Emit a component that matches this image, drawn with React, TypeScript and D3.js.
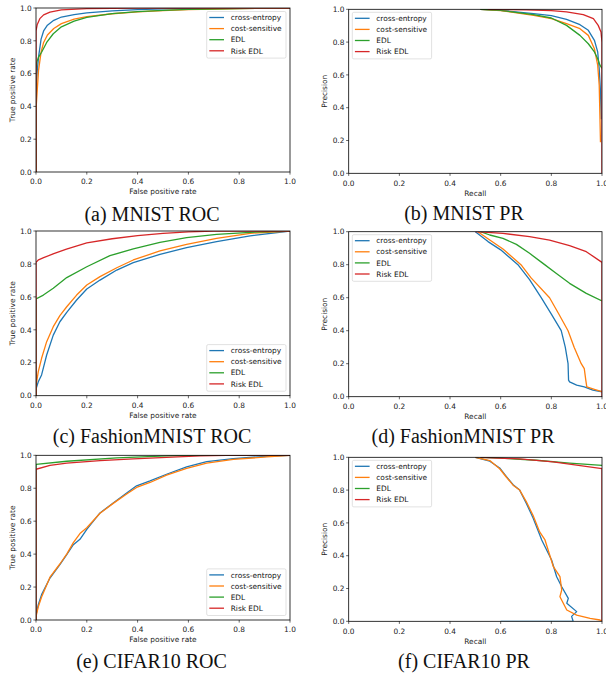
import React from 'react'
import * as d3 from 'd3'

type Pt = [number, number]

const methods = ['cross-entropy', 'cost-sensitive', 'EDL', 'Risk EDL']
const colors = ['#1f77b4', '#ff7f0e', '#2ca02c', '#d62728']
const tickValues = [0, 0.2, 0.4, 0.6, 0.8, 1.0]

// (a) MNIST ROC  [fpr, tpr]
const mnistRocCE: Pt[] = [[0, 0], [0, 0.5], [0.005, 0.62], [0.01, 0.7], [0.02, 0.81], [0.03, 0.86], [0.045, 0.895], [0.07, 0.925], [0.1, 0.945], [0.15, 0.96], [0.2, 0.97], [0.3, 0.982], [0.4, 0.99], [0.5, 0.995], [0.7, 0.999], [1, 1]]
const mnistRocCS: Pt[] = [[0, 0], [0, 0.38], [0.005, 0.5], [0.01, 0.62], [0.02, 0.73], [0.03, 0.79], [0.045, 0.835], [0.07, 0.875], [0.1, 0.905], [0.15, 0.932], [0.2, 0.948], [0.3, 0.965], [0.4, 0.976], [0.5, 0.984], [0.6, 0.99], [0.8, 0.997], [1, 1]]
const mnistRocEDL: Pt[] = [[0, 0], [0, 0.62], [0.003, 0.67], [0.01, 0.7], [0.022, 0.73], [0.042, 0.79], [0.068, 0.843], [0.1, 0.885], [0.15, 0.92], [0.2, 0.943], [0.3, 0.966], [0.4, 0.978], [0.5, 0.986], [0.6, 0.992], [0.8, 0.997], [1, 1]]
const mnistRocRisk: Pt[] = [[0, 0], [0, 0.86], [0.005, 0.9], [0.015, 0.935], [0.03, 0.958], [0.055, 0.975], [0.1, 0.988], [0.2, 0.996], [0.4, 0.999], [1, 1]]

// (b) MNIST PR  [recall, precision]
const mnistPrCE: Pt[] = [[0.52, 1], [0.6, 0.994], [0.73, 0.973], [0.8, 0.962], [0.86, 0.939], [0.913, 0.906], [0.946, 0.872], [0.97, 0.811], [0.983, 0.74], [0.989, 0.638], [0.994, 0.5], [0.997, 0.33]]
const mnistPrCS: Pt[] = [[0.52, 1], [0.6, 0.992], [0.73, 0.963], [0.8, 0.943], [0.86, 0.912], [0.913, 0.882], [0.946, 0.841], [0.97, 0.76], [0.983, 0.659], [0.989, 0.537], [0.992, 0.333], [0.994, 0.19]]
const mnistPrEDL: Pt[] = [[0.52, 1], [0.6, 0.993], [0.73, 0.967], [0.8, 0.947], [0.86, 0.902], [0.913, 0.841], [0.946, 0.79], [0.97, 0.74], [0.983, 0.699], [0.992, 0.659], [1, 0.64]]
const mnistPrRisk: Pt[] = [[0.55, 1], [0.7, 0.997], [0.8, 0.992], [0.86, 0.984], [0.926, 0.967], [0.966, 0.943], [0.985, 0.902], [0.996, 0.862], [1, 0.8], [1, 0]]

// (c) FashionMNIST ROC
const fashionRocCE: Pt[] = [[0, 0], [0, 0.04], [0.009, 0.085], [0.022, 0.126], [0.042, 0.247], [0.068, 0.368], [0.094, 0.449], [0.121, 0.506], [0.16, 0.581], [0.2, 0.648], [0.252, 0.702], [0.318, 0.763], [0.383, 0.808], [0.488, 0.858], [0.593, 0.899], [0.711, 0.935], [0.843, 0.97], [1, 1]]
const fashionRocCS: Pt[] = [[0, 0], [0, 0.06], [0.009, 0.146], [0.022, 0.227], [0.042, 0.328], [0.068, 0.419], [0.094, 0.486], [0.121, 0.54], [0.16, 0.611], [0.2, 0.672], [0.252, 0.723], [0.318, 0.777], [0.383, 0.824], [0.488, 0.879], [0.593, 0.919], [0.711, 0.955], [0.843, 0.986], [1, 1]]
const fashionRocEDL: Pt[] = [[0, 0], [0, 0.587], [0.029, 0.611], [0.068, 0.652], [0.121, 0.717], [0.2, 0.783], [0.291, 0.85], [0.383, 0.891], [0.488, 0.931], [0.593, 0.96], [0.711, 0.98], [0.843, 0.992], [1, 1]]
const fashionRocRisk: Pt[] = [[0, 0], [0, 0.81], [0.01, 0.825], [0.03, 0.838], [0.07, 0.862], [0.12, 0.89], [0.2, 0.928], [0.3, 0.953], [0.4, 0.972], [0.5, 0.986], [0.6, 0.995], [0.7, 0.999], [1, 1]]

// (d) FashionMNIST PR
const fashionPrCE: Pt[] = [[0.5, 1], [0.55, 0.94], [0.6, 0.89], [0.668, 0.8], [0.714, 0.71], [0.76, 0.6], [0.8, 0.5], [0.839, 0.4], [0.855, 0.3], [0.866, 0.2], [0.868, 0.1], [0.872, 0.09], [0.9, 0.07], [0.93, 0.06], [0.964, 0.04], [1, 0.03]]
const fashionPrCS: Pt[] = [[0.51, 1], [0.557, 0.95], [0.609, 0.895], [0.68, 0.8], [0.72, 0.72], [0.793, 0.6], [0.83, 0.5], [0.866, 0.4], [0.89, 0.3], [0.918, 0.2], [0.93, 0.17], [0.936, 0.1], [0.94, 0.06], [0.97, 0.045], [1, 0.03]]
const fashionPrEDL: Pt[] = [[0.52, 1], [0.557, 0.98], [0.609, 0.96], [0.662, 0.923], [0.714, 0.869], [0.767, 0.808], [0.82, 0.747], [0.872, 0.687], [0.938, 0.626], [1, 0.58]]
const fashionPrRisk: Pt[] = [[0.5, 1], [0.609, 0.99], [0.714, 0.97], [0.793, 0.949], [0.872, 0.915], [0.938, 0.879], [1, 0.814], [1, 0]]

// (e) CIFAR10 ROC
const cifarRocCE: Pt[] = [[0, 0], [0, 0.03], [0.009, 0.093], [0.022, 0.154], [0.055, 0.255], [0.094, 0.336], [0.121, 0.397], [0.147, 0.457], [0.173, 0.49], [0.2, 0.55], [0.252, 0.65], [0.304, 0.711], [0.357, 0.771], [0.396, 0.815], [0.449, 0.845], [0.514, 0.885], [0.593, 0.93], [0.672, 0.962], [0.777, 0.98], [0.908, 0.994], [1, 1]]
const cifarRocCS: Pt[] = [[0, 0], [0, 0.02], [0.009, 0.08], [0.022, 0.14], [0.055, 0.26], [0.094, 0.34], [0.121, 0.4], [0.147, 0.47], [0.173, 0.525], [0.2, 0.56], [0.252, 0.648], [0.304, 0.708], [0.357, 0.765], [0.396, 0.805], [0.449, 0.835], [0.514, 0.88], [0.593, 0.92], [0.672, 0.952], [0.777, 0.975], [0.908, 0.99], [1, 1]]
const cifarRocEDL: Pt[] = [[0, 0], [0, 0.945], [0.121, 0.964], [0.318, 0.984], [0.514, 0.996], [0.6, 1], [1, 1]]
const cifarRocRisk: Pt[] = [[0, 0], [0, 0.915], [0.055, 0.939], [0.121, 0.953], [0.252, 0.968], [0.383, 0.978], [0.514, 0.988], [0.646, 0.996], [0.75, 1], [1, 1]]

// (f) CIFAR10 PR
const cifarPrCE: Pt[] = [[0.5, 1], [0.557, 0.976], [0.596, 0.935], [0.622, 0.884], [0.649, 0.833], [0.675, 0.8], [0.701, 0.72], [0.728, 0.63], [0.754, 0.528], [0.762, 0.496], [0.801, 0.374], [0.821, 0.272], [0.841, 0.211], [0.867, 0.14], [0.861, 0.11], [0.9, 0.059], [0.88, 0.03], [0.886, 0], [0.6, 0]]
const cifarPrCS: Pt[] = [[0.5, 1], [0.557, 0.98], [0.596, 0.93], [0.622, 0.88], [0.649, 0.83], [0.675, 0.8], [0.701, 0.73], [0.728, 0.645], [0.754, 0.545], [0.775, 0.496], [0.808, 0.333], [0.834, 0.272], [0.841, 0.191], [0.834, 0.15], [0.861, 0.069], [0.9, 0.038], [0.953, 0.018], [0.992, 0.008], [1, 0]]
const cifarPrEDL: Pt[] = [[0.52, 1], [0.6, 0.995], [0.741, 0.982], [0.872, 0.965], [1, 0.951]]
const cifarPrRisk: Pt[] = [[0.52, 1], [0.675, 0.99], [0.807, 0.972], [1, 0.931], [1, 0]]

type PanelSpec = {
  id: string
  caption: string
  xLabel: string
  yLabel: string
  curves: Pt[][]
  legend: 'ur' | 'ul' | 'lr'
  box: [number, number, number, number] // left, top, right, bottom
  capX: number
  capY: number
}

const rocX = 'False positive rate'
const rocY = 'True positive rate'

const panels: PanelSpec[] = [
  { id: 'a', caption: '(a) MNIST ROC', xLabel: rocX, yLabel: rocY, curves: [mnistRocCE, mnistRocCS, mnistRocEDL, mnistRocRisk], legend: 'ur', box: [36, 8, 290, 172], capX: 152, capY: 220.5 },
  { id: 'b', caption: '(b) MNIST PR', xLabel: 'Recall', yLabel: 'Precision', curves: [mnistPrCE, mnistPrCS, mnistPrEDL, mnistPrRisk], legend: 'ul', box: [348.7, 9.3, 602, 173.3], capX: 464, capY: 220 },
  { id: 'c', caption: '(c) FashionMNIST ROC', xLabel: rocX, yLabel: rocY, curves: [fashionRocCE, fashionRocCS, fashionRocEDL, fashionRocRisk], legend: 'lr', box: [36, 231, 290, 395.7], capX: 152, capY: 443 },
  { id: 'd', caption: '(d) FashionMNIST PR', xLabel: 'Recall', yLabel: 'Precision', curves: [fashionPrCE, fashionPrCS, fashionPrEDL, fashionPrRisk], legend: 'ul', box: [348.7, 231.7, 602, 396.7], capX: 463, capY: 442.7 },
  { id: 'e', caption: '(e) CIFAR10 ROC', xLabel: rocX, yLabel: rocY, curves: [cifarRocCE, cifarRocCS, cifarRocEDL, cifarRocRisk], legend: 'lr', box: [36, 455.3, 290, 620], capX: 151.5, capY: 668 },
  { id: 'f', caption: '(f) CIFAR10 PR', xLabel: 'Recall', yLabel: 'Precision', curves: [cifarPrCE, cifarPrCS, cifarPrEDL, cifarPrRisk], legend: 'ul', box: [348.7, 457.3, 602, 621.3], capX: 464, capY: 668 },
]

const sans = 'DejaVu Sans, sans-serif'
const fontSize = 7.4

function Legend({ x, y }: { x: number; y: number }) {
  const w = 79.3
  const h = 46.6
  return (
    <g transform={`translate(${x},${y})`}>
      <rect width={w} height={h} rx={1.5} fill="#fff" fillOpacity={0.8} stroke="#cccccc" strokeWidth={0.6} />
      {methods.map((m, i) => {
        const cy = 6 + i * 11.1
        return (
          <g key={m}>
            <line x1={2.6} x2={17.3} y1={cy} y2={cy} stroke={colors[i]} strokeWidth={1.3} />
            <text x={24} y={cy + 2.7} fontFamily={sans} fontSize={fontSize} fill="#111">{m}</text>
          </g>
        )
      })}
    </g>
  )
}

function Panel({ p }: { p: PanelSpec }) {
  const [left, top, right, bottom] = p.box
  const x = d3.scaleLinear().domain([0, 1]).range([left, right])
  const y = d3.scaleLinear().domain([0, 1]).range([bottom, top])
  const line = d3.line<Pt>().x(d => x(d[0])).y(d => y(d[1]))
  const fmt = d3.format('.1f')

  let lx = right - 4 - 79.3
  let ly = top + 3.5
  if (p.legend === 'ul') { lx = left + 3.6; ly = top + 3 }
  if (p.legend === 'lr') { ly = bottom - 4.5 - 46.6 }

  return (
    <g>
      <defs>
        <clipPath id={`clip-${p.id}`}>
          <rect x={left} y={top} width={right - left} height={bottom - top} />
        </clipPath>
      </defs>
      <g clipPath={`url(#clip-${p.id})`}>
        {p.curves.map((c, i) => (
          <path key={i} d={line(c) || ''} fill="none" stroke={colors[i]} strokeWidth={1.3} strokeLinejoin="round" />
        ))}
      </g>
      <rect x={left} y={top} width={right - left} height={bottom - top} fill="none" stroke="#000" strokeWidth={0.8} />
      {tickValues.map(t => (
        <g key={`x${t}`}>
          <line x1={x(t)} x2={x(t)} y1={bottom} y2={bottom + 2.6} stroke="#000" strokeWidth={0.6} />
          <text x={x(t)} y={bottom + 12.3} textAnchor="middle" fontFamily={sans} fontSize={fontSize} fill="#222">{fmt(t)}</text>
        </g>
      ))}
      {tickValues.map(t => (
        <g key={`y${t}`}>
          <line x1={left - 2.6} x2={left} y1={y(t)} y2={y(t)} stroke="#000" strokeWidth={0.6} />
          <text x={left - 4.3} y={y(t) + 2.7} textAnchor="end" fontFamily={sans} fontSize={fontSize} fill="#222">{fmt(t)}</text>
        </g>
      ))}
      <text x={(left + right) / 2} y={bottom + 22.4} textAnchor="middle" fontFamily={sans} fontSize={fontSize} fill="#222">{p.xLabel}</text>
      <text transform={`translate(${left - 21.5},${(top + bottom) / 2}) rotate(-90)`} textAnchor="middle" fontFamily={sans} fontSize={fontSize} fill="#222">{p.yLabel}</text>
      <Legend x={lx} y={ly} />
      <text x={p.capX} y={p.capY} textAnchor="middle" fontFamily="Liberation Serif, Times New Roman, serif" fontSize={20} fill="#111">{p.caption}</text>
    </g>
  )
}

export default function App() {
  return (
    <svg width={606} height={675} style={{ position: 'absolute', left: 0, top: 0, background: '#fff' }}>
      {panels.map(p => <Panel key={p.id} p={p} />)}
    </svg>
  )
}
